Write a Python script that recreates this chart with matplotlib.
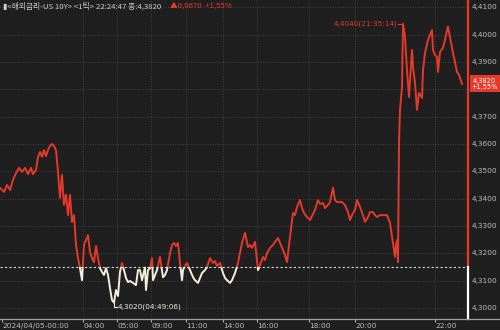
import matplotlib
matplotlib.use("Agg")
import matplotlib.pyplot as plt
from matplotlib.patches import Rectangle
from matplotlib.lines import Line2D

plt.rcParams["font.family"] = ["Noto Sans CJK KR", "DejaVu Sans"]

BG = "#1f1f1f"
RED = "#e5392b"
CREAM = "#f2f0dc"
GRID = "#4a4a4a"
TXT = "#bdbdbd"

PREV_CLOSE = 4.3150
LAST = 4.3820

# tick index (x) and price
ticks = [0, 4, 7, 10, 13, 16, 19, 22, 25, 28, 31, 33, 36, 38, 40, 42, 44, 46, 48, 50,
         52, 54, 56, 58, 60, 62, 64, 66, 68, 70, 72, 74, 76, 78, 80, 82, 84, 86, 88, 90,
         92, 94, 96, 98, 100, 102, 104, 106, 108, 110, 112, 114, 116, 118, 120, 122, 124, 126, 128, 130,
         133, 136, 138, 140, 142, 145, 146, 148, 150, 152, 153, 155, 157, 160, 163, 165, 167, 170, 172, 174,
         176, 178, 180, 182, 183, 185, 187, 190, 193, 195, 198, 200, 202, 205, 207, 210, 213, 215, 217, 220,
         223, 225, 227, 230, 232, 235, 238, 242, 245, 248, 250, 252, 255, 258, 260, 263, 265, 267, 270, 273,
         275, 278, 280, 282, 285, 287, 290, 293, 295, 297, 300, 302, 304, 307, 310, 313, 315, 318, 320, 323,
         325, 327, 330, 333, 335, 337, 340, 342, 345, 348, 350, 352, 355, 357, 360, 363, 365, 368, 370, 373,
         375, 377, 380, 383, 387, 390, 393, 395, 396, 397, 398, 399, 400, 402, 403, 405, 407, 409, 412, 413,
         415, 417, 419, 422, 423, 425, 428, 432, 433, 435, 437, 438, 440, 443, 445, 447, 448, 450, 453, 455,
         457, 459, 462]
price = [4.3440, 4.3425, 4.3450, 4.3432, 4.3469, 4.3494, 4.3513, 4.3498, 4.3513, 4.3490,
         4.3513, 4.3490, 4.3505, 4.3553, 4.3571, 4.3553, 4.3578, 4.3556, 4.3578, 4.3593,
         4.3600, 4.3593, 4.3578, 4.3498, 4.3403, 4.3487, 4.3377, 4.3414, 4.3340, 4.3414,
         4.3315, 4.3340, 4.3231, 4.3183, 4.3146, 4.3102, 4.3231, 4.3249, 4.3267, 4.3205,
         4.3183, 4.3168, 4.3227, 4.3183, 4.3146, 4.3132, 4.3121, 4.3146, 4.3121, 4.3073,
         4.3029, 4.3020, 4.3066, 4.3044, 4.3132, 4.3165, 4.3139, 4.3110, 4.3095, 4.3099,
         4.3092, 4.3084, 4.3139, 4.3139, 4.3102, 4.3150, 4.3066, 4.3139, 4.3146, 4.3183,
         4.3102, 4.3121, 4.3139, 4.3187, 4.3113, 4.3121, 4.3139, 4.3201, 4.3231, 4.3238,
         4.3227, 4.3238, 4.3165, 4.3102, 4.3139, 4.3154, 4.3165, 4.3139, 4.3113, 4.3102,
         4.3092, 4.3110, 4.3128, 4.3139, 4.3150, 4.3183, 4.3165, 4.3172, 4.3154, 4.3165,
         4.3128, 4.3110, 4.3102, 4.3092, 4.3102, 4.3128, 4.3165, 4.3238, 4.3275, 4.3223,
         4.3231, 4.3220, 4.3242, 4.3139, 4.3157, 4.3187, 4.3176, 4.3201, 4.3220, 4.3231,
         4.3242, 4.3256, 4.3238, 4.3220, 4.3194, 4.3168, 4.3260, 4.3348, 4.3340, 4.3370,
         4.3395, 4.3366, 4.3348, 4.3333, 4.3322, 4.3344, 4.3359, 4.3395, 4.3381, 4.3384,
         4.3366, 4.3373, 4.3388, 4.3440, 4.3395, 4.3388, 4.3388, 4.3388, 4.3377, 4.3351,
         4.3322, 4.3340, 4.3359, 4.3395, 4.3370, 4.3340, 4.3315, 4.3333, 4.3351, 4.3351,
         4.3340, 4.3333, 4.3340, 4.3340, 4.3340, 4.3311, 4.3238, 4.3187, 4.3231, 4.3249,
         4.3168, 4.3604, 4.3725, 4.3809, 4.4040, 4.3992, 4.3871, 4.3772, 4.3944, 4.3882,
         4.3824, 4.3725, 4.3787, 4.3769, 4.3871, 4.3933, 4.3981, 4.4017, 4.3944, 4.3926,
         4.3919, 4.3864, 4.3937, 4.3952, 4.3981, 4.4017, 4.4030, 4.3992, 4.3933, 4.3900,
         4.3864, 4.3853, 4.3820]

xtick_pos = [2, 83, 117, 151, 186, 223, 257, 309, 355, 435]
xtick_lbl = ["2024/04/05-00:00", "04:00", "05:00", "09:00", "11:00", "14:00",
             "16:00", "18:00", "20:00", "22:00"]
ytick_vals = [4.30, 4.31, 4.32, 4.33, 4.34, 4.35, 4.36, 4.37, 4.38, 4.39, 4.40, 4.41]

XMAX = 468
YMIN, YMAX = 4.2960, 4.4127

fig = plt.figure(figsize=(5, 3.3), dpi=100, facecolor=BG)
ax = fig.add_axes([0, 11 / 330, XMAX / 500, 319 / 330])
ax.set_facecolor(BG)
ax.set_xlim(0, XMAX)
ax.set_ylim(YMIN, YMAX)

# grid
for v in ytick_vals:
    ax.axhline(v, color=GRID, lw=0.6, ls=(0, (1, 2)), zorder=1)
for x in xtick_pos[1:]:
    ax.axvline(x, color=GRID, lw=0.6, ls=(0, (1, 2)), zorder=1)

# prev close line
ax.axhline(PREV_CLOSE, color="#d8d8d8", lw=0.8, ls=(0, (2, 2)), zorder=2)

# price line: red above prev close, cream below
up = Rectangle((0, PREV_CLOSE), XMAX, YMAX - PREV_CLOSE, transform=ax.transData)
dn = Rectangle((0, YMIN), XMAX, PREV_CLOSE - YMIN, transform=ax.transData)
l1, = ax.plot(ticks, price, color=RED, lw=1.4, zorder=3)
l1.set_clip_path(up)
l2, = ax.plot(ticks, price, color=CREAM, lw=1.4, zorder=3)
l2.set_clip_path(dn)

# right edge line
ax.plot([XMAX - 0.5] * 2, [PREV_CLOSE, YMAX], color=RED, lw=1.6, clip_on=False, zorder=4)
ax.plot([XMAX - 0.5] * 2, [YMIN, PREV_CLOSE], color="white", lw=1.6, clip_on=False, zorder=4)

# high / low annotations
hi_i = price.index(max(price))
lo_i = price.index(min(price))
ax.plot([ticks[hi_i] - 5, ticks[hi_i]], [max(price)] * 2, color=RED, lw=0.8)
ax.text(ticks[hi_i] - 6, max(price), "4,4040(21:35:14)", color=RED, fontsize=5.2,
        ha="right", va="center", family="DejaVu Sans")
ax.plot([ticks[lo_i], ticks[lo_i], ticks[lo_i] + 3],
        [min(price), min(price) - 0.0017, min(price) - 0.0017], color=CREAM, lw=0.8)
ax.text(ticks[lo_i] + 3.5, min(price) - 0.0017, "4,3020(04:49:06)", color=CREAM,
        fontsize=5.2, ha="left", va="center", family="DejaVu Sans")

# axes styling
for s in ax.spines.values():
    s.set_visible(False)
ax.set_xticks(xtick_pos)
ax.set_xticklabels(xtick_lbl)
ax.tick_params(axis="x", length=2, color="#aaaaaa", labelsize=5.3, labelcolor=TXT, pad=1)
for lbl in ax.get_xticklabels():
    lbl.set_horizontalalignment("left")
    lbl.set_family("DejaVu Sans")
ax.set_yticks([])
for v in ytick_vals:
    if abs(v - LAST) < 0.004:
        continue  # hidden behind the last-price box
    ax.text(XMAX + 4, v, f"{v:.4f}".replace(".", ","), color=TXT, fontsize=5.3,
            ha="left", va="center", clip_on=False, family="DejaVu Sans")

# bottom axis line across full width
fig.add_artist(Line2D([0, 1], [11 / 330, 11 / 330], color="#a0a0a0", lw=0.9))

# last price box
ax.add_patch(Rectangle((XMAX + 1.5, LAST - 0.0030), 30, 0.0062, facecolor=RED,
                       edgecolor="none", clip_on=False, zorder=5))
ax.text(XMAX + 16.5, LAST + 0.0001, "4,3820\n+1,55%", color="white", fontsize=4.8,
        ha="center", va="center", linespacing=1.0, zorder=6, family="DejaVu Sans")

# header
fig.text(3 / 500, 1 - 6 / 330, "▮<해외금리-US 10Y> <1틱> 22:24:47 종:4,3820",
         color="#cfcfcf", fontsize=5.6, ha="left", va="center")
fig.text(170 / 500, 1 - 6 / 330, "▲0,0670  +1,55%", color=RED, fontsize=5.6,
         ha="left", va="center")

fig.savefig("out.png", dpi=100, facecolor=BG)
